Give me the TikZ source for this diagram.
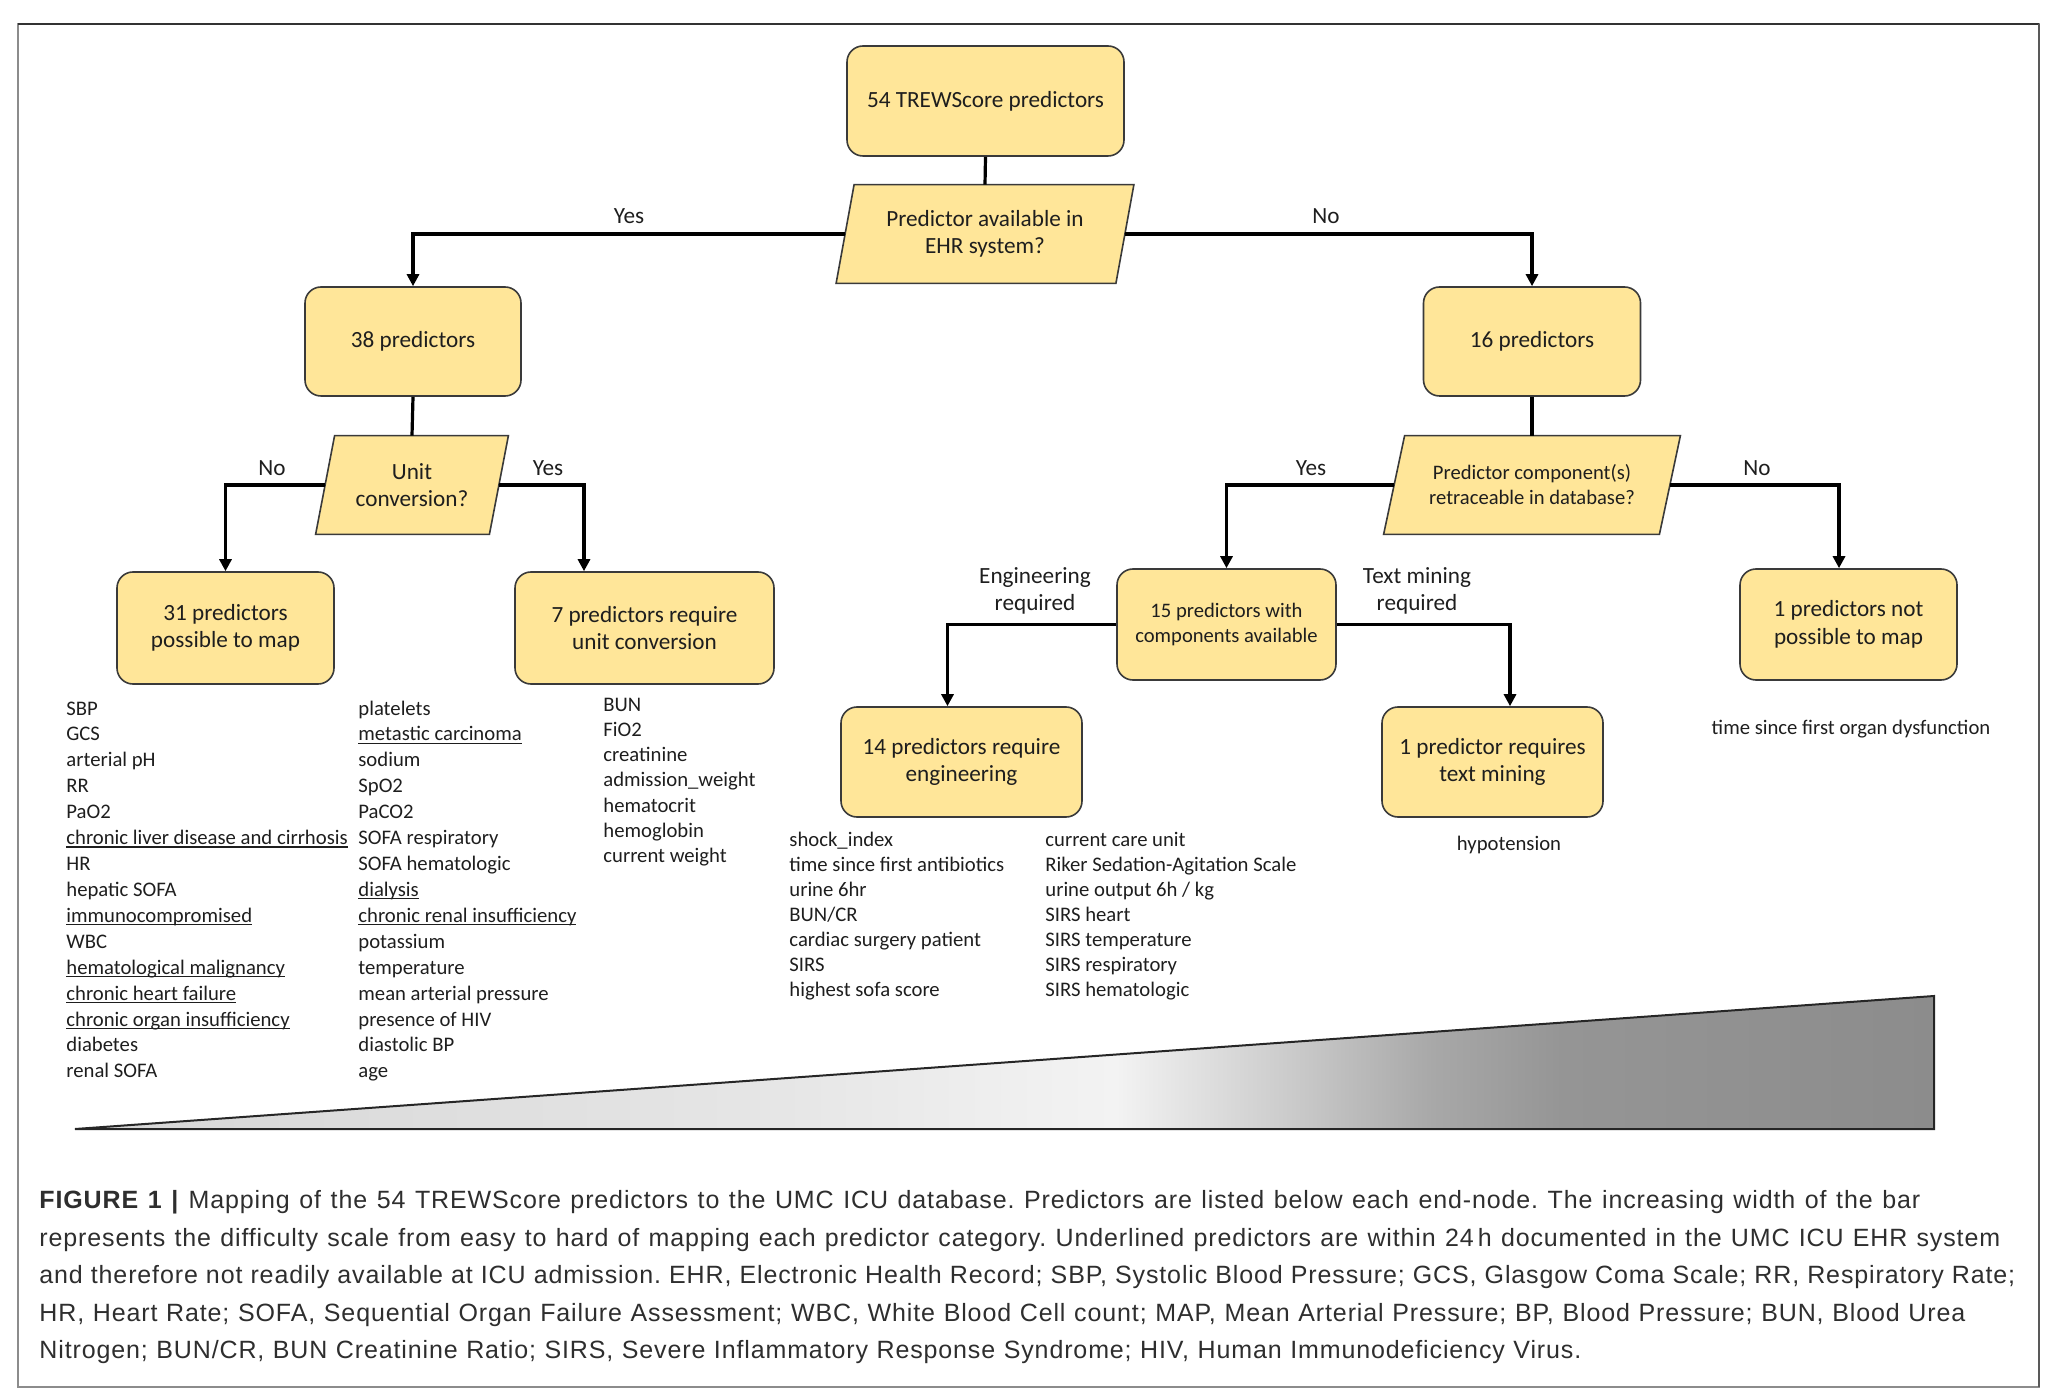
\documentclass[tikz,border=0pt]{standalone}
\usepackage{fontspec}
\setmainfont{Carlito}
\newfontfamily\capfont[LetterSpace=3.5]{Liberation Sans}
\usetikzlibrary{arrows.meta,backgrounds}

\definecolor{boxfill}{HTML}{FFE699}
\definecolor{boxline}{HTML}{3A3A3A}
\definecolor{inkc}{HTML}{1E1E1E}
\definecolor{capc}{HTML}{2E2E2E}
\definecolor{gA}{HTML}{D6D6D6}
\definecolor{gB}{HTML}{DDDDDD}
\definecolor{gC}{HTML}{E6E6E6}
\definecolor{gD}{HTML}{F3F3F3}
\definecolor{gE}{HTML}{C8C8C8}
\definecolor{gF}{HTML}{A8A8A8}
\definecolor{gG}{HTML}{959595}
\definecolor{gH}{HTML}{8C8C8C}

% difficulty wedge: the path's box maps onto 25bp..75bp
\pgfdeclarehorizontalshading{difficulty}{100bp}{%
  color(0bp)=(gA); color(25bp)=(gA); color(33.5bp)=(gB); color(44bp)=(gC);
  color(53bp)=(gD); color(58bp)=(gE); color(61.5bp)=(gF); color(65bp)=(gG);
  color(75bp)=(gH); color(100bp)=(gH)}

\newcommand\boxfont{\fontsize{11.6}{13.8}\selectfont}
\newcommand\smallboxfont{\fontsize{10.3}{12.5}\selectfont}
\newcommand\itemfont{\fontsize{10.35}{12.9}\selectfont}
\newcommand\ulin[1]{\setbox0\hbox{#1}\rlap{\rule[-1.5pt]{\wd0}{0.7pt}}\box0}
\newcommand\capline[2]{\makebox[#1][s]{#2}}

\tikzset{
  endbox/.style 2 args={draw=boxline, line width=0.8pt, fill=boxfill,
    rounded corners=8pt, align=center, font=\boxfont, text=inkc,
    inner sep=0pt, minimum width={#1*0.5pt}, minimum height={#2*0.5pt}},
  decision/.style 2 args={align=center, font=\boxfont, text=inkc,
    inner sep=0pt, minimum width={#1*0.5pt}, minimum height={#2*0.5pt}},
  decshape/.style={draw=boxline, line width=0.8pt, fill=boxfill},
  line/.style={draw=black, line width=1.6pt},
  arr/.style={line, -{Triangle[length=6pt,width=6pt]}},
  lbl/.style={font=\boxfont, text=inkc, align=center, inner sep=0pt},
  item/.style={font=\itemfont, text=inkc, inner sep=0pt, anchor=base west},
}

\begin{document}
\frenchspacing
\begin{tikzpicture}[x=0.5pt,y=-0.5pt]
\useasboundingbox (0,0) rectangle (2054,1400);

% outer frame
\draw[black!45, line width=1.2pt] (18,24) rectangle (2039,1387);
\draw[black!80, line width=1.2pt] (18,24) -- (2039,24);
\draw[black!65, line width=1.2pt] (2039,24) -- (2039,1387);

% boxes
\node[endbox={277}{110}] (top) at (985.5,101) {54 TREWScore predictors};
\node[decision={279}{98}] (q1) at (985,234) {Predictor available in\\EHR system?};

\node[endbox={216}{109}] (b38) at (413,341.5) {38 predictors};
\node[endbox={217}{109}] (b16) at (1532,341.5) {16 predictors};

\node[decision={173}{98}] (q2) at (412,485) {Unit\\conversion?};
\node[decision={275}{98}, font=\smallboxfont] (q3) at (1532,485) {Predictor component(s)\\retraceable in database?};

\node[endbox={217}{112}] (b31) at (225.5,628) {31 predictors\\possible to map};
\node[endbox={259}{112}] (b7) at (644.5,628) {7 predictors require\\unit conversion};
\node[endbox={219}{111}, font=\smallboxfont] (b15) at (1226.5,624.5) {15 predictors with\\components available};
\node[endbox={217}{111}] (b1n) at (1848.5,624.5) {1 predictors not\\possible to map};
\node[endbox={241}{110}] (b14) at (961.5,762) {14 predictors require\\engineering};
\node[endbox={221}{110}] (b1t) at (1492.5,762) {1 predictor requires\\text mining};

% slanted decision outlines behind their texts
\begin{scope}[on background layer]
  \foreach \n/\s in {q1/4.5pt, q2/4.75pt, q3/5.25pt}{
    \path[decshape] ([xshift=\s]\n.north west) -- ([xshift=\s]\n.north east)
      -- ([xshift=-\s]\n.south east) -- ([xshift=-\s]\n.south west) -- cycle;
  }
\end{scope}

% connectors
\draw[line] (top.south) -- (q1.north);
\draw[arr] (q1.west) -| (b38.north);
\draw[arr] (q1.east) -| (b16.north);
\draw[line] (b38.south) -- (q2.north);
\draw[arr] (q2.west) -| (b31.north);
\draw[arr] (q2.east) -| ([xshift=-30.25pt]b7.north);
\draw[line] (b16.south) -- (q3.north);
\draw[arr] (q3.west) -| (b15.north);
\draw[arr] (q3.east) -| ([xshift=-4.75pt]b1n.north);
\draw[arr] (b15.west) -| ([xshift=-7pt]b14.north);
\draw[arr] (b15.east) -| ([xshift=8.75pt]b1t.north);

% branch labels
\node[lbl] (yes1) at (629,216) {Yes};
\node[lbl] (no1) at (1326,216) {No};
\node[lbl] (no2) at (272,468) {No};
\node[lbl] (yes2) at (548,468) {Yes};
\node[lbl] (yes3) at (1311,468) {Yes};
\node[lbl] (no3) at (1757,468) {No};
\node[lbl] (eng) at (1035,591) {Engineering\\required};
\node[lbl] (txt) at (1417,591) {Text mining\\required};

% predictor lists
\foreach \itm [count=\i] in {SBP, GCS, arterial pH, RR, PaO2,
  \ulin{chronic liver disease and cirrhosis}, HR, hepatic SOFA,
  \ulin{immunocompromised}, WBC, \ulin{hematological malignancy},
  \ulin{chronic heart failure}, \ulin{chronic organ insufficiency},
  diabetes, renal SOFA}
  \node[item] (la\i) at (66,{715+25.92*(\i-1)}) {\itm};

\foreach \itm [count=\i] in {platelets, \ulin{metastic carcinoma}, sodium,
  SpO2, PaCO2, SOFA respiratory, SOFA hematologic, \ulin{dialysis},
  \ulin{chronic renal insufficiency}, potassium, temperature,
  mean arterial pressure, presence of HIV, diastolic BP, age}
  \node[item] (lb\i) at (358,{715+25.92*(\i-1)}) {\itm};

\foreach \itm [count=\i] in {BUN, FiO2, creatinine, admission\_weight,
  hematocrit, hemoglobin, current weight}
  \node[item] (lc\i) at (603,{711+25.3*(\i-1)}) {\itm};

\foreach \itm [count=\i] in {shock\_index, time since first antibiotics,
  urine 6hr, BUN/CR, cardiac surgery patient, SIRS, highest sofa score}
  \node[item] (ld\i) at (789,{846+25.1*(\i-1)}) {\itm};

\foreach \itm [count=\i] in {current care unit, Riker Sedation-Agitation Scale,
  urine output 6h / kg, SIRS heart, SIRS temperature, SIRS respiratory,
  SIRS hematologic}
  \node[item] (le\i) at (1045,{846+25.1*(\i-1)}) {\itm};

\node[item, anchor=base] (lf) at (1509,850) {hypotension};
\node[item, anchor=base] (lg) at (1851,734) {time since first organ dysfunction};

% difficulty wedge
\path[shading=difficulty] (75,1129) -- (1934,996) -- (1934,1129) -- cycle;
\draw[black!85, line width=1pt, line join=miter] (75,1129) -- (1934,996) -- (1934,1129) -- cycle;

% caption
\node[anchor=north west, align=left, inner sep=0pt, text=capc,
  font=\capfont\fontsize{12.5}{18.75}\selectfont] (cap) at (39,1190)
{\capline{940.5pt}{\textbf{FIGURE 1 |} Mapping of the 54 TREWScore predictors to the UMC ICU database. Predictors are listed below each end-node. The increasing width of the bar}\\
\capline{980.5pt}{represents the difficulty scale from easy to hard of mapping each predictor category. Underlined predictors are within 24\,h documented in the UMC ICU EHR system}\\
\capline{988pt}{and therefore not readily available at ICU admission. EHR, Electronic Health Record; SBP, Systolic Blood Pressure; GCS, Glasgow Coma Scale; RR, Respiratory Rate;}\\
\capline{963pt}{HR, Heart Rate; SOFA, Sequential Organ Failure Assessment; WBC, White Blood Cell count; MAP, Mean Arterial Pressure; BP, Blood Pressure; BUN, Blood Urea}\\
\capline{771pt}{Nitrogen; BUN/CR, BUN Creatinine Ratio; SIRS, Severe Inflammatory Response Syndrome; HIV, Human Immunodeficiency Virus.}};

\end{tikzpicture}
\end{document}
